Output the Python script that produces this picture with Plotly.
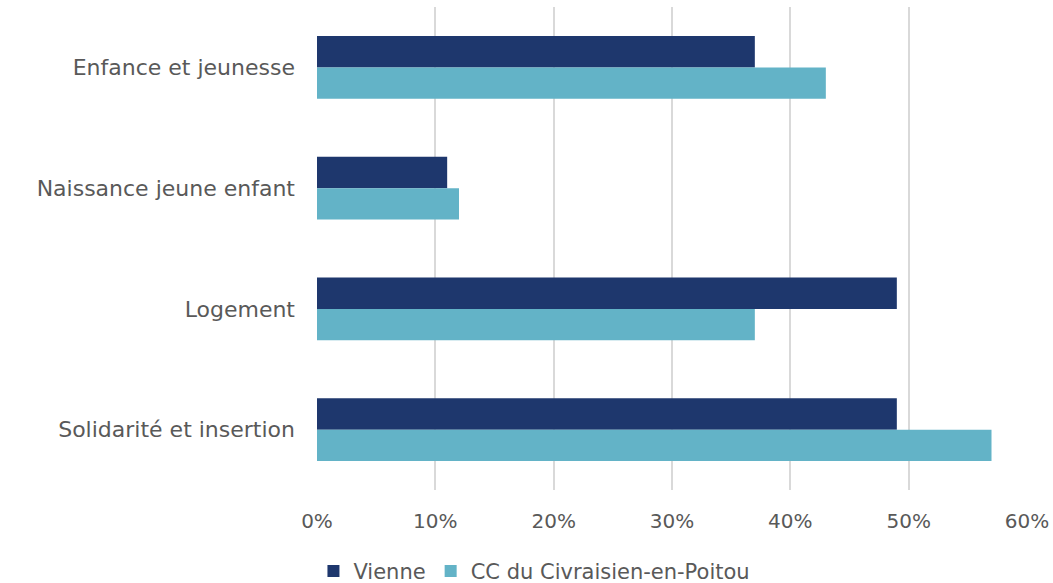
import plotly.graph_objects as go

categories = ["Enfance et jeunesse", "Naissance jeune enfant", "Logement", "Solidarité et insertion"]
vienne = [0.37, 0.11, 0.49, 0.49]
cc_civraisien = [0.43, 0.12, 0.37, 0.57]
tick_vals = [0, 0.1, 0.2, 0.3, 0.4, 0.5, 0.6]
tick_text = ["0%", "10%", "20%", "30%", "40%", "50%", "60%"]

FONT = "DejaVu Sans"
GREY = "#595959"

fig = go.Figure()
fig.add_trace(go.Bar(y=categories, x=vienne, orientation="h", name="Vienne",
                     marker=dict(color="#1E376D", line=dict(width=0))))
fig.add_trace(go.Bar(y=categories, x=cc_civraisien, orientation="h", name="CC du Civraisien-en-Poitou",
                     marker=dict(color="#63B3C7", line=dict(width=0))))

fig.update_layout(
    width=1053, height=583,
    margin=dict(l=317, r=26, t=7, b=93, autoexpand=False),
    barmode="group", bargap=0.48, bargroupgap=0,
    plot_bgcolor="white", paper_bgcolor="white",
    font=dict(family=FONT, size=21, color=GREY),
    xaxis=dict(range=[0, 0.6], tickvals=tick_vals, ticktext=tick_text,
               showgrid=True, gridcolor="#D9D9D9", gridwidth=2, automargin=False,
               zeroline=False, showline=False, ticks="", ticklabelstandoff=17,
               tickfont=dict(size=20, color=GREY)),
    yaxis=dict(autorange="reversed", showgrid=False, zeroline=False, showline=False,
               automargin=False,
               ticks="", ticklabelstandoff=21, tickfont=dict(size=22, color=GREY)),
    legend=dict(orientation="h", x=-0.005, xanchor="left", y=-0.126, yanchor="top",
                font=dict(size=21, color=GREY), traceorder="normal",
                itemwidth=30),
    showlegend=True,
)

fig.write_html("out.html", config={"displayModeBar": False},
               post_script="document.body.style.margin='0';document.body.style.overflow='hidden';")
